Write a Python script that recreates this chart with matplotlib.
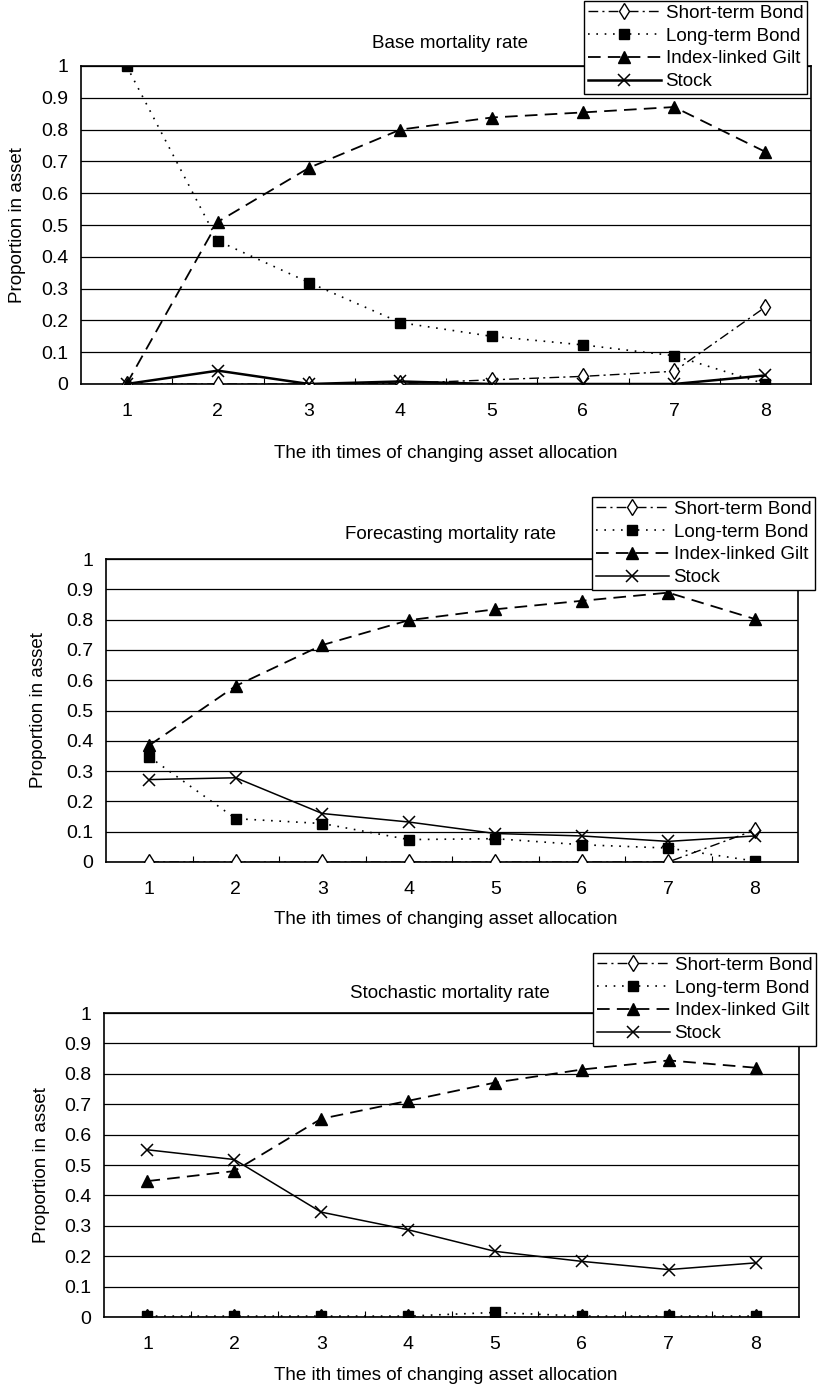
import numpy as np
import matplotlib.pyplot as plt

plt.rcParams['font.family'] = ['Liberation Sans', 'DejaVu Sans']

steps = [1, 2, 3, 4, 5, 6, 7, 8]
series_names = ['Short-term Bond', 'Long-term Bond', 'Index-linked Gilt', 'Stock']
yticks = [0, 0.1, 0.2, 0.3, 0.4, 0.5, 0.6, 0.7, 0.8, 0.9, 1]
ytick_labels = ['0', '0.1', '0.2', '0.3', '0.4', '0.5', '0.6', '0.7', '0.8', '0.9', '1']
xlabel = 'The ith times of changing asset allocation'
ylabel = 'Proportion in asset'

# base mortality rate
base_short = [0.0, 0.0, 0.0, 0.002, 0.013, 0.024, 0.04, 0.242]
base_long = [1.0, 0.45, 0.319, 0.193, 0.15, 0.123, 0.089, 0.0]
base_gilt = [0.0, 0.51, 0.68, 0.80, 0.838, 0.854, 0.871, 0.73]
base_stock = [0.0, 0.042, 0.0, 0.008, 0.0, 0.0, 0.0, 0.027]

# forecasting mortality rate
fc_short = [0.0, 0.0, 0.0, 0.0, 0.0, 0.0, 0.0, 0.105]
fc_long = [0.347, 0.143, 0.127, 0.074, 0.077, 0.057, 0.046, 0.003]
fc_gilt = [0.385, 0.581, 0.716, 0.798, 0.834, 0.862, 0.889, 0.802]
fc_stock = [0.272, 0.278, 0.160, 0.132, 0.094, 0.086, 0.068, 0.086]

# stochastic mortality rate
st_short = [0.0, 0.0, 0.0, 0.0, 0.0, 0.0, 0.0, 0.0]
st_long = [0.003, 0.003, 0.003, 0.003, 0.015, 0.003, 0.003, 0.003]
st_gilt = [0.447, 0.48, 0.652, 0.711, 0.771, 0.814, 0.844, 0.82]
st_stock = [0.55, 0.518, 0.345, 0.287, 0.216, 0.183, 0.156, 0.178]

W, H = 819, 1388
fig = plt.figure(figsize=(W / 100, H / 100), dpi=100)


def draw_panel(rect, title, title_y, short, long_, gilt, stock, leg_xy, label_x, xlabel_y, stock_lw=1.1):
    left, right, top, bottom = rect
    ax = fig.add_axes([left / W, 1 - bottom / H, (right - left) / W, (bottom - top) / H])
    lines = []
    lines += ax.plot(steps, short, color='black', lw=1.0, dashes=(7, 3, 1.5, 3), marker='d',
                     mfc='white', mec='black', ms=8, mew=1.0, label=series_names[0], zorder=4)
    lines += ax.plot(steps, long_, color='black', lw=1.2, dashes=(1, 4), marker='s',
                     mfc='black', mec='black', ms=6.5, label=series_names[1], zorder=4)
    lines += ax.plot(steps, gilt, color='black', lw=1.3, dashes=(7, 4), marker='^',
                     mfc='black', mec='black', ms=8, label=series_names[2], zorder=4)
    lines += ax.plot(steps, stock, color='black', lw=stock_lw, marker='x',
                     mec='black', ms=9, mew=1.1, label=series_names[3], zorder=4)

    ax.set_xlim(0.5, 8.5)
    ax.set_ylim(0, 1)
    ax.set_xticks(steps)
    ax.set_xticks(np.arange(1.5, 8, 1), minor=True)
    ax.set_yticks(yticks)
    ax.set_yticklabels(ytick_labels)
    ax.tick_params(axis='both', which='major', length=0, labelsize=14, pad=9)
    ax.tick_params(axis='x', which='minor', direction='in', length=4, width=0.8)
    ax.tick_params(axis='x', pad=14)
    ax.grid(axis='y', color='black', lw=0.9, zorder=1)
    ax.set_axisbelow(True)
    for s in ax.spines.values():
        s.set_linewidth(1.2)
        s.set_color('black')

    fig.text(450 / W, 1 - title_y / H, title, ha='center', va='center', fontsize=13.5)
    fig.text(label_x / W, 1 - ((top + bottom) / 2) / H, ylabel, rotation=90,
             ha='center', va='center', fontsize=13.5)
    fig.text(446 / W, 1 - xlabel_y / H, xlabel, ha='center', va='center', fontsize=13.5)

    leg = fig.legend(handles=lines, loc='upper left',
                     bbox_to_anchor=(leg_xy[0] / W, 1 - leg_xy[1] / H),
                     fontsize=13.5, handlelength=3.9, handletextpad=0.25,
                     borderpad=0.2, labelspacing=0.3, borderaxespad=0,
                     fancybox=False, framealpha=1, edgecolor='black', numpoints=1)
    leg.get_frame().set_linewidth(1.0)
    return ax


draw_panel((81, 811, 66, 384), 'Base mortality rate', 43,
           base_short, base_long, base_gilt, base_stock, (584, 1), 18, 453, stock_lw=1.8)
draw_panel((106, 798, 559, 862), 'Forecasting mortality rate', 535,
           fc_short, fc_long, fc_gilt, fc_stock, (592, 497), 39, 920)
draw_panel((104, 799, 1013, 1317), 'Stochastic mortality rate', 993,
           st_short, st_long, st_gilt, st_stock, (593, 953), 42, 1375)

fig.savefig('out.png', dpi=100)
